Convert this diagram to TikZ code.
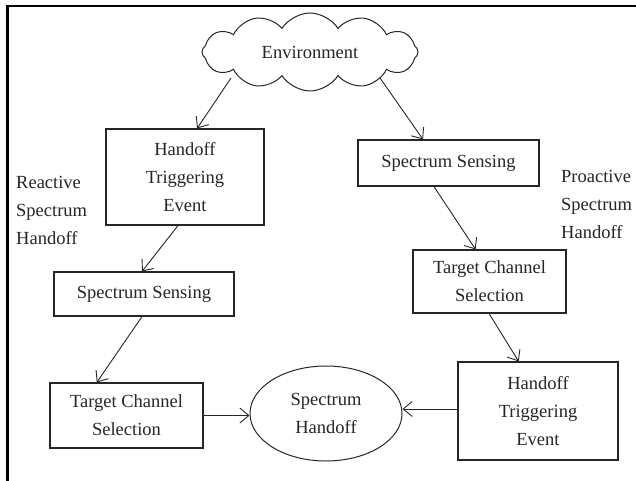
\documentclass[tikz,border=0pt]{standalone}
\usepackage{fontspec}
\setmainfont{Liberation Serif}
\usetikzlibrary{shapes.symbols,shapes.geometric,arrows.meta,calc}
\begin{document}
\begin{tikzpicture}[x=1pt,y=-1pt,
  font=\fontsize{18.5}{28}\selectfont,
  txt/.style={text=black!85},
  stepbox/.style={draw=black!85,line width=1.1pt,inner sep=0pt,align=center,txt},
  label/.style={inner sep=0pt,align=left,txt},
  flow/.style={draw=black!85,line width=0.9pt,-{Straight Barb[length=9pt,width=15pt,line width=0.9pt]}},
  frame/.style={draw=black,line width=2.2pt}]
\useasboundingbox (0,0) rectangle (636,481);
\fill[white] (0,0) rectangle (636,481);
% page frame: top and left rules only
\coordinate (ftl) at (7.5,6);
\coordinate (ftr) at (636,6);
\coordinate (fbl) at (7.5,481);
\draw[frame] (ftr) -- (ftl) -- (fbl);

% nodes
\node[cloud,draw=black!85,line width=1pt,cloud puffs=12,cloud puff arc=115,aspect=2.7,
      minimum width=216pt,minimum height=78pt,inner sep=0pt,txt] (env) at (310,52) {Environment};
\node[stepbox,minimum width=158pt,minimum height=96pt] (hteL) at (185,177) {Handoff\\Triggering\\Event};
\node[stepbox,minimum width=180pt,minimum height=44pt] (ssL) at (144,294) {Spectrum Sensing};
\node[stepbox,minimum width=153pt,minimum height=65pt] (tcsL) at (126.5,415.5) {Target Channel\\Selection};
\node[ellipse,draw=black!85,line width=1pt,minimum width=152pt,minimum height=95pt,inner sep=0pt,align=center,txt] (sh) at (326,413.5) {Spectrum\\Handoff};
\node[stepbox,minimum width=181pt,minimum height=46pt] (ssR) at (448.5,163) {Spectrum Sensing};
\node[stepbox,minimum width=153pt,minimum height=63pt] (tcsR) at (489.5,281.5) {Target Channel\\Selection};
\node[stepbox,minimum width=160pt,minimum height=98pt] (hteR) at (538,411) {Handoff\\Triggering\\Event};

\node[label,anchor=west] (react) at (16,210) {Reactive\\Spectrum\\Handoff};
\node[label,anchor=west] (proact) at (561,204) {Proactive\\Spectrum\\Handoff};

% connectors
\draw[flow] ($(env.center)+(-79,26)$) -- ($(hteL.north west)!0.576!(hteL.north east)$);
\draw[flow] ($(env.center)+(70,26)$) -- ($(ssR.north west)!0.36!(ssR.north east)$);
\draw[flow] ($(hteL.south west)!0.456!(hteL.south east)$) -- ($(ssL.north west)!0.489!(ssL.north east)$);
\draw[flow] ($(ssL.south west)!0.489!(ssL.south east)$) -- ($(tcsL.north west)!0.307!(tcsL.north east)$);
\draw[flow] (tcsL.east) -- (tcsL.east -| sh.west);
\draw[flow] ($(ssR.south west)!0.42!(ssR.south east)$) -- ($(tcsR.north west)!0.41!(tcsR.north east)$);
\draw[flow] ($(tcsR.south west)!0.497!(tcsR.south east)$) -- ($(hteR.north west)!0.38!(hteR.north east)$);
\draw[flow] ($(hteR.west)+(0,-2)$) -- ($(hteR.west -| sh.east)+(0,-2)$);
\end{tikzpicture}
\end{document}
